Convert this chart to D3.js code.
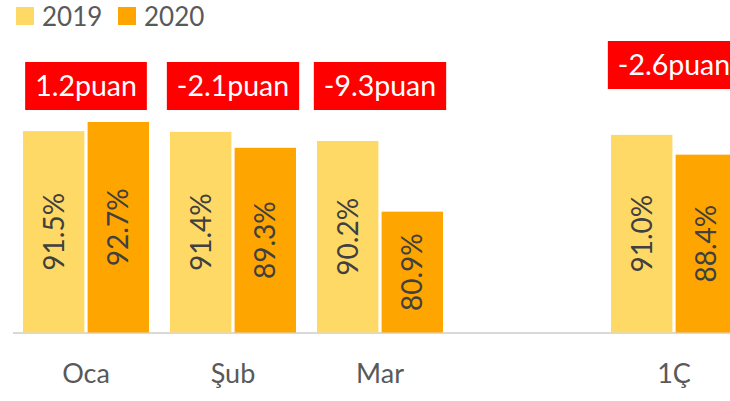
<!DOCTYPE html>
<html>
<head>
<meta charset="utf-8">
<script src="https://cdn.jsdelivr.net/npm/d3@7"></script>
<style>
  body { margin: 0; background: #fff; }
  svg { display: block; font-family: Lato, "Open Sans", sans-serif; }
</style>
</head>
<body>
<svg id="chart" width="730" height="401"></svg>
<script>
var categories = ["Oca", "Şub", "Mar", "", "1Ç"];
var seriesNames = ["2019", "2020"];
var values2019 = [91.5, 91.4, 90.2, null, 91.0];
var values2020 = [92.7, 89.3, 80.9, null, 88.4];
var diffLabels = ["1.2puan", "-2.1puan", "-9.3puan", null, "-2.6puan"];
var colors = ["#ffd966", "#ffa500"];

var svg = d3.select("#chart");

// blank 4th slot keeps the gap before the quarter column
var slots = categories.map(function(c, i) { return "c" + i; });

var x = d3.scaleBand().domain(slots).range([12.5, 747.5]);
var xSub = d3.scaleBand().domain(seriesNames).range([10.5, 136.5]).paddingInner(0.05);
var y = d3.scaleLinear().domain([65, 100]).range([332.5, 66.5]);

var rows = categories.map(function(c, i) {
  return { slot: slots[i], name: c, vals: [values2019[i], values2020[i]], diff: diffLabels[i] };
});

// axis line + category labels
var xAxis = svg.append("g")
  .attr("transform", "translate(0," + y(65) + ")")
  .call(d3.axisBottom(x).tickSize(0).tickPadding(31).tickFormat(function(d, i) { return categories[i]; }));
xAxis.select(".domain").attr("stroke", "#d9d9d9").attr("stroke-width", 2);
xAxis.selectAll("text")
  .attr("fill", "#595959")
  .style("font-size", "27px")
  .style("font-family", "Lato, sans-serif");

var groups = svg.selectAll(".cat")
  .data(rows.filter(function(r) { return r.vals[0] != null; }))
  .enter().append("g")
  .attr("class", "cat")
  .attr("transform", function(d) { return "translate(" + x(d.slot) + ",0)"; });

var bars = groups.selectAll(".bar")
  .data(function(d) { return d.vals.map(function(v, j) { return { s: seriesNames[j], v: v, j: j }; }); })
  .enter().append("g");

bars.append("rect")
  .attr("x", function(d) { return xSub(d.s); })
  .attr("y", function(d) { return y(d.v); })
  .attr("width", xSub.bandwidth())
  .attr("height", function(d) { return y(65) - y(d.v); })
  .attr("fill", function(d) { return colors[d.j]; });

bars.append("text")
  .attr("transform", function(d) {
    var cx = xSub(d.s) + xSub.bandwidth() / 2;
    var cy = (y(d.v) + y(65)) / 2;
    return "translate(" + cx + "," + cy + ") rotate(-90)";
  })
  .attr("text-anchor", "middle")
  .attr("dy", "0.36em")
  .attr("fill", "#404040")
  .style("font-size", "28px")
  .text(function(d) { return d.v.toFixed(1) + "%"; });

// red difference boxes
var boxes = groups.append("g")
  .attr("transform", function(d, i) {
    var top = d.name === "1Ç" ? 41 : 62;
    return "translate(" + (x.bandwidth() / 2) + "," + top + ")";
  });
var boxRects = boxes.append("rect").attr("fill", "#ff0000");
var boxTexts = boxes.append("text")
  .attr("text-anchor", "middle")
  .attr("y", 34)
  .attr("fill", "#fff")
  .style("font-size", "28.5px")
  .text(function(d) { return d.diff; });
boxTexts.each(function() {
  var w = this.getComputedTextLength() + 20;
  d3.select(this.previousSibling)
    .attr("x", -w / 2).attr("width", w)
    .attr("y", 0).attr("height", 48);
});

// legend
var legend = svg.append("g").selectAll("g")
  .data(seriesNames)
  .enter().append("g")
  .attr("transform", function(d, i) { return "translate(" + (16 + i * 102) + ",7)"; });
legend.append("rect").attr("width", 18).attr("height", 18)
  .attr("fill", function(d, i) { return colors[i]; });
legend.append("text")
  .attr("x", 26).attr("y", 19)
  .attr("fill", "#595959")
  .style("font-size", "26px")
  .text(function(d) { return d; });
</script>
</body>
</html>
